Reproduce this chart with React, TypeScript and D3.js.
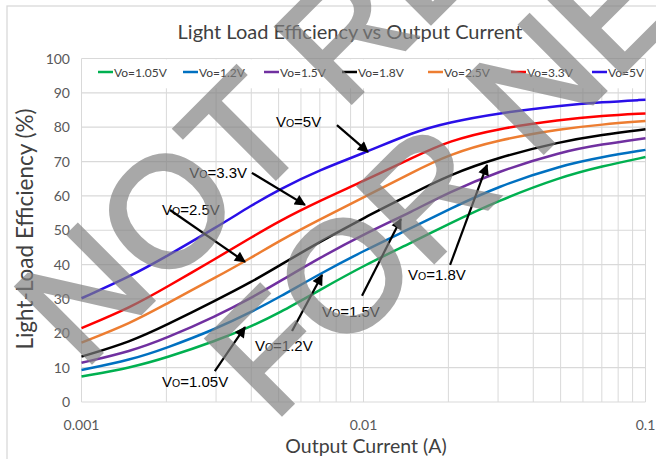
import React from 'react';
import * as d3 from 'd3';

const currents = [0.001, 0.0015, 0.002, 0.003, 0.004, 0.005, 0.007, 0.01, 0.015, 0.02, 0.03, 0.05, 0.07, 0.1];
const seriesNames = ['Vo=1.05V', 'Vo=1.2V', 'Vo=1.5V', 'Vo=1.8V', 'Vo=2.5V', 'Vo=3.3V', 'Vo=5V'];
const seriesColors = ['#00B050', '#0070C0', '#7030A0', '#000000', '#ED7D31', '#FF0000', '#2A0FE8'];
const eff105 = [7.4, 10.0, 12.9, 17.8, 22.0, 25.8, 32.6, 39.7, 46.6, 51.8, 58.6, 65.5, 68.6, 71.3];
const eff12 = [9.3, 12.3, 15.7, 21.3, 26.2, 30.4, 37.3, 44.0, 50.9, 56.0, 62.8, 68.8, 71.3, 73.4];
const eff15 = [11.4, 14.8, 18.6, 25.0, 30.3, 34.9, 42.0, 48.8, 55.6, 61.0, 67.1, 72.8, 75.0, 76.8];
const eff18 = [13.2, 17.6, 22.4, 29.6, 34.9, 39.6, 46.6, 53.6, 60.8, 66.0, 71.2, 75.8, 77.8, 79.4];
const eff25 = [17.3, 23.0, 28.6, 36.3, 42.0, 46.8, 53.2, 59.5, 67.0, 72.0, 76.3, 79.5, 80.8, 81.8];
const eff33 = [21.5, 27.6, 33.4, 41.8, 47.9, 52.6, 58.6, 64.3, 71.2, 76.0, 79.6, 82.2, 83.3, 84.0];
const eff5 = [30.2, 36.7, 42.4, 50.8, 57.2, 61.8, 67.6, 72.4, 78.6, 81.4, 84.1, 86.3, 87.3, 88.0];
const seriesValues = [eff105, eff12, eff15, eff18, eff25, eff33, eff5];

const yTicks = [0, 10, 20, 30, 40, 50, 60, 70, 80, 90, 100];
const xTickLabels = ['0.001', '0.01', '0.1'];
const xTickValues = [0.001, 0.01, 0.1];

const chartTitle = 'Light Load Efficiency vs Output Current';
const xTitle = 'Output Current (A)';
const yTitle = 'Light-Load Efficiency (%)';

// annotations: label text, label anchor (current, eff), arrow start, arrow tip (data coords)
const annLabels = ['5V', '3.3V', '2.5V', '1.05V', '1.2V', '1.5V', '1.8V'];
const annTextPos = [[0.00489, 80.1], [0.00241, 65.2], [0.00193, 54.4], [0.00193, 4.4], [0.00412, 14.8], [0.00713, 24.7], [0.01438, 35.5]];
const annFrom = [[0.00805, 80.6], [0.00402, 66.7], [0.00206, 55.9], [0.00297, 9.0], [0.00558, 20.7], [0.00988, 30.9], [0.02028, 39.9]];
const annTo = [[0.01037, 72.8], [0.0062, 57.4], [0.0038, 40.8], [0.0038, 21.8], [0.00713, 37.0], [0.01358, 53.3], [0.02742, 69.0]];

const watermarkLines = ['NOT RECOMMENDED', 'FOR NEW DESIGNS'];

const W = 656;
const H = 459;
const left = 81.5;
const right = 645.5;
const top = 58.5;
const bottom = 402;
const legendX = [98, 183, 264, 342, 428, 511, 592];

const calib = 'Lato, "Open Sans", sans-serif';

export default function App() {
  const x = d3.scaleLog().domain([0.001, 0.1]).range([left, right]);
  const y = d3.scaleLinear().domain([0, 100]).range([bottom, top]);
  const line = d3
    .line<number>()
    .x((_, i) => x(currents[i]))
    .y((d) => y(d))
    .curve(d3.curveBasis);

  const minorTicks: number[] = [];
  [0.001, 0.01].forEach((dec) => {
    for (let k = 1; k <= 10; k++) minorTicks.push(dec * k);
  });

  return (
    <svg width={W} height={H} style={{ position: 'absolute', left: 0, top: 0 }} xmlns="http://www.w3.org/2000/svg">
      <defs>
        <marker id="ah" viewBox="0 0 10 10" refX="9" refY="5" markerWidth="5.5" markerHeight="5" orient="auto" markerUnits="strokeWidth">
          <path d="M0,0 L10,5 L0,10 z" fill="#000" />
        </marker>
        <clipPath id="pageclip">
          <rect x={0} y={0} width={W} height={H} />
        </clipPath>
      </defs>
      <rect x={0} y={0} width={W} height={H} fill="#fff" />
      <rect x={7} y={6} width={W + 20} height={H + 20} fill="#fff" stroke="#D9D9D9" strokeWidth={1.3} />

      {/* gridlines */}
      {minorTicks.map((t, i) => (
        <line key={'v' + i} x1={x(t)} x2={x(t)} y1={top} y2={bottom} stroke="#D9D9D9" strokeWidth={1} />
      ))}
      {yTicks.map((t) => (
        <line key={'h' + t} x1={left} x2={right} y1={y(t)} y2={y(t)} stroke="#D9D9D9" strokeWidth={1.2} />
      ))}

      {/* legend background */}
      <rect x={left + 0.5} y={top + 0.8} width={right - left - 1} height={29} fill="#fff" />
      {seriesNames.map((n, i) => (
        <g key={n} transform={`translate(${legendX[i]},72)`}>
          <line x1={0} x2={15} y1={0} y2={0} stroke={seriesColors[i]} strokeWidth={2.5} />
          <text x={16} y={4.5} fontFamily={calib} fontSize={12} fill="#404040">
            {n}
          </text>
        </g>
      ))}

      {/* series */}
      {seriesValues.map((vals, i) => (
        <path key={i} d={line(vals) || ''} fill="none" stroke={seriesColors[i]} strokeWidth={2.5} />
      ))}

      {/* axes labels */}
      {yTicks.map((t) => (
        <text key={'yl' + t} x={70} y={y(t) + 5} textAnchor="end" fontFamily={calib} fontSize={14} fill="#595959">
          {t}
        </text>
      ))}
      {xTickValues.map((t, i) => (
        <text key={'xl' + i} x={x(t)} y={430} textAnchor="middle" fontFamily={calib} fontSize={14} fill="#595959">
          {xTickLabels[i]}
        </text>
      ))}
      <text x={350} y={39} textAnchor="middle" fontFamily={calib} fontSize={20} fill="#404040">
        {chartTitle}
      </text>
      <text x={366} y={453} textAnchor="middle" fontFamily={calib} fontSize={19.5} fill="#404040">
        {xTitle}
      </text>
      <text transform="translate(33,229) rotate(-90)" textAnchor="middle" fontFamily={calib} fontSize={22.5} fill="#404040">
        {yTitle}
      </text>

      {/* annotations */}
      {annLabels.map((l, i) => (
        <g key={'a' + i}>
          <text x={x(annTextPos[i][0])} y={y(annTextPos[i][1])} fontFamily='"Liberation Sans", Arial, sans-serif' fontSize={15} fill="#000">
            V<tspan fontSize={10.5}>O</tspan>={l}
          </text>
          <line
            x1={x(annFrom[i][0])}
            y1={y(annFrom[i][1])}
            x2={x(annTo[i][0])}
            y2={y(annTo[i][1])}
            stroke="#000"
            strokeWidth={2.2}
            markerEnd="url(#ah)"
          />
        </g>
      ))}

      {/* watermark */}
      <g clipPath="url(#pageclip)">
        <g opacity={0.68} fontFamily='"Liberation Sans", Arial, sans-serif' fontSize={155} fill="#808080" stroke="#808080" strokeWidth={4}>
          <text transform="translate(83,371) rotate(-45)">{watermarkLines[0]}</text>
          <text transform="translate(273,423) rotate(-45)">{watermarkLines[1]}</text>
        </g>
      </g>
    </svg>
  );
}
